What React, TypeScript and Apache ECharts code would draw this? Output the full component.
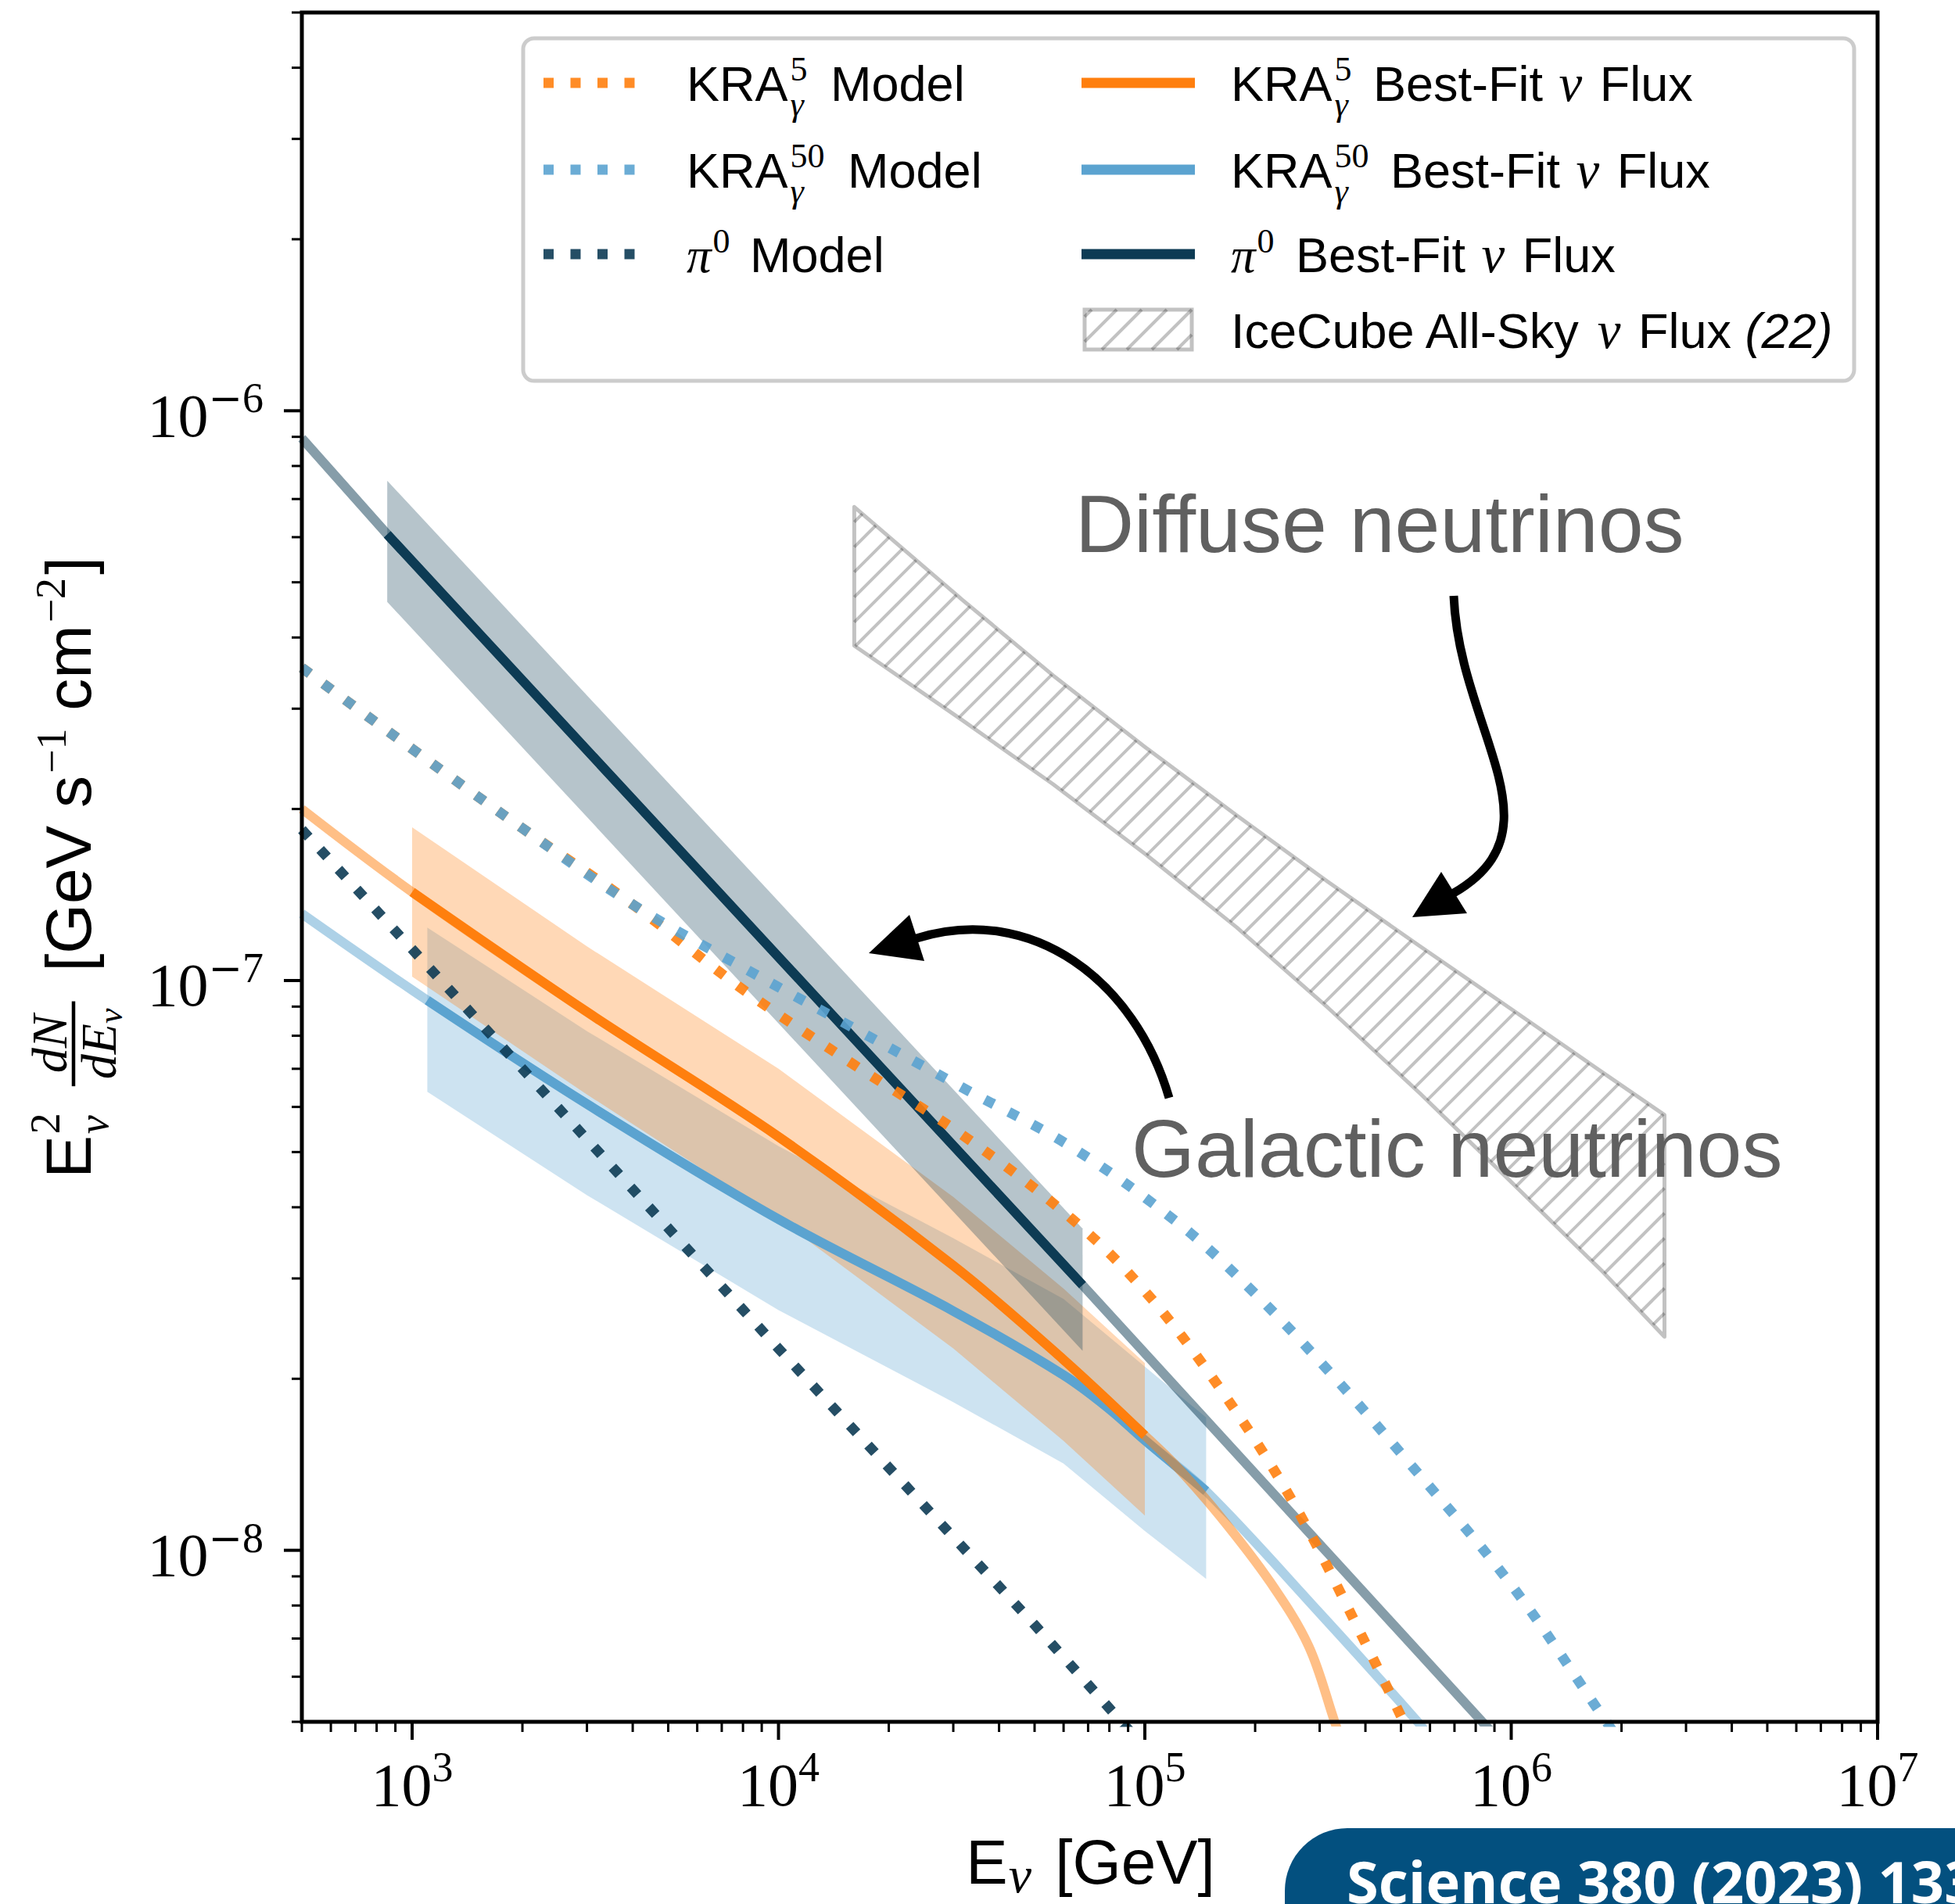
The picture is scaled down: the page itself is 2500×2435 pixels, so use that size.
import React, { useEffect, useRef } from 'react';
import * as echarts from 'echarts';

// ---------------- axis ranges & ticks ----------------
const X_MIN = 500;
const X_MAX = 1e7;
const Y_MIN = 5e-9;
const Y_MAX = 5e-6;
const xMajorTicks = [1e3, 1e4, 1e5, 1e6, 1e7];
const yMajorTicks = [1e-8, 1e-7, 1e-6];
const minorSteps = [2, 3, 4, 5, 6, 7, 8, 9];
const xMinorDecades = [1e2, 1e3, 1e4, 1e5, 1e6];
const yMinorDecades = [1e-9, 1e-8, 1e-7, 1e-6];

// ---------------- data (E in GeV, E^2 dN/dE in GeV s^-1 cm^-2) ----------------
// model predictions (dotted)
const pi0ModelE = [500, 2000, 10000, 50000, 100000];
const pi0ModelF = [1.84e-7, 7.0e-8, 2.26e-8, 7.4e-9, 4.5e-9];

const kra50ModelE = [500, 1000, 2000, 4000, 8000, 16000, 31600, 63100, 126000, 200000, 316000, 500000, 1000000, 1780000, 2000000];
const kra50ModelF = [3.54e-7, 2.55e-7, 1.85e-7, 1.36e-7, 1.054e-7, 8.26e-8, 6.5e-8, 5.1e-8, 3.71e-8, 2.82e-8, 2.07e-8, 1.48e-8, 8.7e-9, 5.1e-9, 4.57e-9];

const kra5ModelE = [500, 1000, 2000, 4000, 8000, 16000, 31600, 63100, 100000, 158000, 251000, 398000, 562000];
const kra5ModelF = [3.54e-7, 2.55e-7, 1.85e-7, 1.36e-7, 9.64e-8, 7.13e-8, 5.37e-8, 3.82e-8, 2.85e-8, 1.95e-8, 1.23e-8, 6.92e-9, 4.37e-9];

// best-fit fluxes (solid inside fit range, faded outside)
const kra5FitE = [500, 1000, 3000, 10000, 30000, 60000, 100000, 120000, 160000, 220000, 280000, 330000, 350000];
const kra5FitF = [2.0e-7, 1.43e-7, 8.81e-8, 5.32e-8, 3.16e-8, 2.16e-8, 1.59e-8, 1.42e-8, 1.15e-8, 8.79e-9, 6.79e-9, 4.99e-9, 4.47e-9];
const kra5FitRange = [1000, 100000];

const kra50FitE = [500, 1100, 3000, 10000, 30000, 60000, 80000, 100000, 147000, 300000, 560000, 600000];
const kra50FitF = [1.31e-7, 9.23e-8, 6.07e-8, 3.81e-8, 2.63e-8, 2.03e-8, 1.77e-8, 1.56e-8, 1.27e-8, 7.76e-9, 4.97e-9, 4.68e-9];
const kra50FitRange = [1100, 147000];

const pi0FitE = [500, 855, 10000, 67600, 1000000];
const pi0FitF = [8.95e-7, 6.07e-7, 1.10e-7, 2.92e-8, 4.4e-9];
const pi0FitRange = [855, 67600];

// uncertainty bands
const pi0BandE = [855, 10000, 67600];
const pi0BandUp = [7.54e-7, 1.377e-7, 3.67e-8];
const pi0BandLo = [4.62e-7, 8.41e-8, 2.24e-8];

const kra5BandE = [1000, 3000, 10000, 30000, 60000, 100000];
const kra5BandUp = [1.858e-7, 1.148e-7, 7.0e-8, 4.17e-8, 2.88e-8, 2.13e-8];
const kra5BandLo = [1.016e-7, 6.31e-8, 3.82e-8, 2.26e-8, 1.556e-8, 1.151e-8];

const kra50BandE = [1100, 3000, 10000, 30000, 60000, 100000, 147000];
const kra50BandUp = [1.239e-7, 8.15e-8, 5.12e-8, 3.53e-8, 2.76e-8, 2.10e-8, 1.71e-8];
const kra50BandLo = [6.38e-8, 4.20e-8, 2.64e-8, 1.82e-8, 1.42e-8, 1.081e-8, 8.91e-9];

// IceCube all-sky diffuse flux (hatched)
const iceE = [16100, 31600, 56200, 100000, 178000, 316000, 562000, 1000000, 1780000, 2620000];
const iceUp = [6.78e-7, 4.67e-7, 3.43e-7, 2.57e-7, 1.95e-7, 1.49e-7, 1.15e-7, 8.91e-8, 6.89e-8, 5.81e-8];
const iceLo = [3.87e-7, 2.87e-7, 2.21e-7, 1.67e-7, 1.24e-7, 8.96e-8, 6.35e-8, 4.43e-8, 3.08e-8, 2.37e-8];

// ---------------- styles ----------------
const ORANGE = [255, 127, 14];
const BLUE = [91, 163, 208];
const NAVY = [13, 59, 84];
const rgba = (c: number[], a: number) => `rgba(${c[0]},${c[1]},${c[2]},${a})`;
const HATCH = 'rgba(0,0,0,0.24)';
const HATCH_STEP = 32;
const DOT = [13, 21.5];

const FONTS: any = {
  sans: { family: 'Liberation Sans', style: 'normal', weight: 'normal', cen: 0.3465 },
  sansI: { family: 'Liberation Sans', style: 'italic', weight: 'normal', cen: 0.3465 },
  serif: { family: 'Liberation Serif', style: 'normal', weight: 'normal', cen: 0.3375 },
  serifI: { family: 'Liberation Serif', style: 'italic', weight: 'normal', cen: 0.3375 },
  bold: { family: 'Open Sans', style: 'normal', weight: 'bold', cen: 0.388 },
};

let measureCtx: any = null;
function textWidth(text: string, fk: string, size: number) {
  if (!measureCtx) measureCtx = document.createElement('canvas').getContext('2d');
  const f = FONTS[fk];
  measureCtx.font = `${f.style} ${f.weight} ${size}px "${f.family}"`;
  return measureCtx.measureText(text).width;
}

function textEl(text: string, fk: string, size: number, x: number, baseline: number, fill: string) {
  const f = FONTS[fk];
  return {
    type: 'text', x, y: baseline - f.cen * size, z: 100, silent: true,
    style: {
      text, fontSize: size, fontFamily: f.family, fontStyle: f.style, fontWeight: f.weight, fill,
      align: 'left', textAlign: 'left', verticalAlign: 'middle', textVerticalAlign: 'middle',
    },
  };
}

function layout(tokens: any[], x0: number, baseline: number, fill: string, out: any[] | null): number {
  let x = x0;
  for (const tk of tokens) {
    x += tk.gap || 0;
    if (tk.stack) {
      let w = 0;
      for (const s of tk.stack) w = Math.max(w, layout([s], x, baseline, fill, out));
      x += w;
    } else if (tk.frac) {
      const fr = tk.frac;
      const wn = layout(fr.num, 0, 0, fill, null);
      const wd = layout(fr.den, 0, 0, fill, null);
      const W = Math.max(wn, wd) + 2 * fr.pad;
      if (out) {
        layout(fr.num, x + (W - wn) / 2, baseline + fr.numDy, fill, out);
        layout(fr.den, x + (W - wd) / 2, baseline + fr.denDy, fill, out);
        out.push({ type: 'line', z: 100, silent: true, shape: { x1: x, y1: baseline + fr.barDy, x2: x + W, y2: baseline + fr.barDy }, style: { stroke: fill, lineWidth: fr.bar } });
      }
      x += W;
    } else {
      const w = textWidth(tk.t, tk.f, tk.s);
      if (out) out.push(textEl(tk.t, tk.f, tk.s, x, baseline + (tk.dy || 0), fill));
      x += w;
    }
  }
  return x - x0;
}

function hatchLines(pts: number[][], step: number, lw: number, z?: number) {
  const out: any[] = [];
  const sums = pts.map((p) => p[0] + p[1]);
  const cmin = Math.min(...sums);
  const cmax = Math.max(...sums);
  for (let c = Math.ceil(cmin / step) * step; c <= cmax; c += step) {
    const hits: number[][] = [];
    for (let i = 0; i < pts.length; i++) {
      const a = pts[i];
      const b = pts[(i + 1) % pts.length];
      const sa = a[0] + a[1] - c;
      const sb = b[0] + b[1] - c;
      if ((sa < 0 && sb >= 0) || (sa >= 0 && sb < 0)) {
        const t = sa / (sa - sb);
        hits.push([a[0] + t * (b[0] - a[0]), a[1] + t * (b[1] - a[1])]);
      }
    }
    hits.sort((p, q) => p[0] - q[0]);
    for (let k = 0; k + 1 < hits.length; k += 2) {
      const el: any = { type: 'line', shape: { x1: hits[k][0], y1: hits[k][1], x2: hits[k + 1][0], y2: hits[k + 1][1] }, style: { stroke: HATCH, lineWidth: lw } };
      if (z != null) { el.z = z; el.silent = true; }
      out.push(el);
    }
  }
  return out;
}

const pairs = (E: number[], F: number[]) => E.map((e, i) => [e, F[i]]);
const within = (E: number[], F: number[], r: number[]) => pairs(E, F).filter((p) => p[0] >= r[0] * 0.999 && p[0] <= r[1] * 1.001);

function lineSeries(data: any[], color: string, width: number, dotted: boolean, smooth: number) {
  return {
    type: 'line', data, showSymbol: false, symbol: 'none', silent: true, clip: true,
    smooth,
    lineStyle: { color, width, type: dotted ? DOT : 'solid', cap: 'butt', join: dotted ? 'miter' : 'round' },
  };
}

function bandSeries(E: number[], up: number[], lo: number[], fill: string) {
  return {
    type: 'custom', coordinateSystem: 'cartesian2d', silent: true,
    encode: { x: 0, y: 1 },
    data: [[E[0], lo[0]]],
    renderItem: (params: any, api: any) => {
      const pts: number[][] = [];
      for (let i = 0; i < E.length; i++) pts.push(api.coord([E[i], up[i]]));
      for (let i = E.length - 1; i >= 0; i--) pts.push(api.coord([E[i], lo[i]]));
      return { type: 'polygon', shape: { points: pts }, style: { fill } };
    },
  };
}

function hatchSeries(E: number[], up: number[], lo: number[]) {
  return {
    type: 'custom', coordinateSystem: 'cartesian2d', silent: true,
    encode: { x: 0, y: 1 },
    data: [[E[0], lo[0]]],
    renderItem: (params: any, api: any) => {
      const pts: number[][] = [];
      for (let i = 0; i < E.length; i++) pts.push(api.coord([E[i], up[i]]));
      for (let i = E.length - 1; i >= 0; i--) pts.push(api.coord([E[i], lo[i]]));
      const children = hatchLines(pts, HATCH_STEP, 4);
      children.push({ type: 'polygon', shape: { points: pts }, style: { fill: 'none', stroke: HATCH, lineWidth: 5, lineJoin: 'round' } });
      return { type: 'group', children };
    },
  };
}

function tickSeries(data: number[][], horizontal: boolean) {
  return {
    type: 'custom', coordinateSystem: 'cartesian2d', silent: true, clip: false, z: 60,
    encode: { x: 0, y: 1 },
    data,
    renderItem: (params: any, api: any) => {
      const p = api.coord([api.value(0), api.value(1)]);
      const major = api.value(2) === 1;
      const len = major ? 23 : 13;
      const lw = major ? 4 : 3;
      const shape = horizontal
        ? { x1: p[0], y1: p[1] + 2, x2: p[0], y2: p[1] + len }
        : { x1: p[0] - 2, y1: p[1], x2: p[0] - len, y2: p[1] };
      return { type: 'line', shape, style: { stroke: '#000', lineWidth: lw } };
    },
  };
}

function powLabel(v: number) {
  if (!(v > 0)) return '';
  const l = Math.log10(v);
  const r = Math.round(l);
  if (Math.abs(l - r) > 1e-6) return '';
  return r < 0 ? `{b|10}{m|\u2212}{s|${-r}}` : `{b|10}{s|${r}}`;
}

const tickRich = {
  b: { fontFamily: 'Liberation Serif', fontSize: 78, padding: [12, 0, 0, 0], color: '#000' },
  m: { fontFamily: 'DejaVu Sans', fontSize: 52, padding: [0, 0, 32, 0], color: '#000' },
  s: { fontFamily: 'Liberation Serif', fontSize: 54, padding: [0, 0, 32, 0], color: '#000' },
};

function buildOption() {
  const xMinor: number[] = [];
  xMinorDecades.forEach((d) => minorSteps.forEach((m) => { const v = m * d; if (v >= X_MIN && v <= X_MAX) xMinor.push(v); }));
  const yMinor: number[] = [];
  yMinorDecades.forEach((d) => minorSteps.forEach((m) => { const v = m * d; if (v >= Y_MIN * 0.999 && v <= Y_MAX * 1.001) yMinor.push(v); }));
  const xTickData = [...xMajorTicks.map((v) => [v, Y_MIN, 1]), ...xMinor.map((v) => [v, Y_MIN, 0])];
  const yTickData = [...yMajorTicks.map((v) => [X_MIN, v, 1]), ...yMinor.map((v) => [X_MIN, v, 0])];

  const S = 0.35;
  const series = [
    bandSeries(kra50BandE, kra50BandUp, kra50BandLo, rgba(BLUE, 0.3)),
    lineSeries(pairs(kra50FitE, kra50FitF), rgba(BLUE, 0.5), 12, false, S),
    lineSeries(within(kra50FitE, kra50FitF, kra50FitRange), rgba(BLUE, 1), 12, false, S),
    bandSeries(kra5BandE, kra5BandUp, kra5BandLo, rgba(ORANGE, 0.3)),
    bandSeries(pi0BandE, pi0BandUp, pi0BandLo, rgba(NAVY, 0.3)),
    lineSeries(pairs(kra5FitE, kra5FitF), rgba(ORANGE, 0.5), 12, false, S),
    lineSeries(within(kra5FitE, kra5FitF, kra5FitRange), rgba(ORANGE, 1), 12, false, S),
    lineSeries(pairs(pi0FitE, pi0FitF), rgba(NAVY, 0.5), 12, false, 0),
    lineSeries(within(pi0FitE, pi0FitF, pi0FitRange), rgba(NAVY, 1), 12, false, 0),
    hatchSeries(iceE, iceUp, iceLo),
    lineSeries(pairs(pi0ModelE, pi0ModelF), rgba(NAVY, 0.9), 13, true, 0),
    lineSeries(pairs(kra5ModelE, kra5ModelF), rgba(ORANGE, 0.9), 13, true, S),
    lineSeries(pairs(kra50ModelE, kra50ModelF), rgba(BLUE, 0.9), 13, true, S),
    tickSeries(xTickData, true),
    tickSeries(yTickData, false),
  ];

  // ---------------- graphic: frame, legend, titles, annotations ----------------
  const g: any[] = [];
  g.push({ type: 'rect', z: 50, silent: true, shape: { x: 386, y: 16, width: 2015, height: 2186 }, style: { fill: 'none', stroke: '#000', lineWidth: 5 } });

  // legend box
  g.push({ type: 'rect', z: 99, silent: true, shape: { x: 669, y: 49, width: 1702, height: 438, r: 14 }, style: { fill: 'rgba(255,255,255,0.8)', stroke: '#cccccc', lineWidth: 5 } });
  const rowsY = [106, 217, 325, 421.5];
  const rowsB = [129, 240, 348, 445];
  const dotted = [ORANGE, BLUE, NAVY];
  dotted.forEach((c, i) => g.push({ type: 'line', z: 100, silent: true, shape: { x1: 695, y1: rowsY[i], x2: 816, y2: rowsY[i] }, style: { stroke: rgba(c, 0.9), lineWidth: 13, lineDash: DOT, lineCap: 'butt' } }));
  dotted.forEach((c, i) => g.push({ type: 'line', z: 100, silent: true, shape: { x1: 1383, y1: rowsY[i], x2: 1528, y2: rowsY[i] }, style: { stroke: rgba(c, 1), lineWidth: 13, lineCap: 'butt' } }));
  const icon = [[1387, 396], [1524, 396], [1524, 447], [1387, 447]];
  hatchLines(icon, HATCH_STEP, 4, 100).forEach((e) => g.push(e));
  g.push({ type: 'rect', z: 100, silent: true, shape: { x: 1387, y: 396, width: 137, height: 51 }, style: { fill: 'none', stroke: HATCH, lineWidth: 5 } });

  const LS = 63;
  const LSS = 44;
  const kra = (sup: string) => [
    { t: 'KRA', f: 'sans', s: LS },
    { stack: [{ t: sup, f: 'serif', s: LSS, dy: -26, gap: 3 }, { t: '\u03b3', f: 'serifI', s: LSS, dy: 19, gap: 3 }] },
  ];
  const pi0 = [{ t: '\u03c0', f: 'serifI', s: LS }, { t: '0', f: 'serif', s: LSS, dy: -25, gap: 2 }];
  const bestFit = [{ t: ' Best-Fit ', f: 'sans', s: LS, gap: 10 }, { t: '\u03bd', f: 'serifI', s: LS + 4, gap: 3 }, { t: ' Flux', f: 'sans', s: LS, gap: 5 }];
  const col1 = [
    [...kra('5'), { t: ' Model', f: 'sans', s: LS, gap: 12 }],
    [...kra('50'), { t: ' Model', f: 'sans', s: LS, gap: 12 }],
    [...pi0, { t: ' Model', f: 'sans', s: LS, gap: 8 }],
  ];
  const col2 = [
    [...kra('5'), ...bestFit],
    [...kra('50'), ...bestFit],
    [...pi0, ...bestFit],
    [{ t: 'IceCube All-Sky ', f: 'sans', s: LS }, { t: '\u03bd', f: 'serifI', s: LS + 4, gap: 3 }, { t: ' Flux ', f: 'sans', s: LS, gap: 5 }, { t: '(22)', f: 'sansI', s: LS }],
  ];
  col1.forEach((toks, i) => layout(toks, 878, rowsB[i], '#000', g));
  col2.forEach((toks, i) => layout(toks, 1574, rowsB[i], '#000', g));

  // y-axis title (rotated)
  const YT = 82;
  const YS = 54;
  const yTitle = [
    { t: 'E', f: 'sans', s: YT },
    { stack: [{ t: '2', f: 'serif', s: YS, dy: -40, gap: 2 }, { t: '\u03bd', f: 'serifI', s: YS, dy: 22, gap: 2 }] },
    { frac: { num: [{ t: 'dN', f: 'serifI', s: 64 }], den: [{ t: 'dE', f: 'serifI', s: 64 }, { t: '\u03bd', f: 'serifI', s: 44, dy: 8 }], numDy: -31, denDy: 32, barDy: -22, pad: 9, bar: 4.5 }, gap: 34 },
    { t: '[GeV s', f: 'sans', s: YT, gap: 38 },
    { t: '\u22121', f: 'serif', s: YS, dy: -32, gap: 3 },
    { t: ' cm', f: 'sans', s: YT },
    { t: '\u22122', f: 'serif', s: YS, dy: -33, gap: 3 },
    { t: ']', f: 'sans', s: YT, gap: 4 },
  ];
  const yW = layout(yTitle, 0, 0, '#000', null);
  const yChildren: any[] = [];
  layout(yTitle, 0, 0, '#000', yChildren);
  g.push({ type: 'group', z: 100, x: 116, y: 1109.5 + yW / 2, rotation: Math.PI / 2, children: yChildren });

  // x-axis title
  const XT = 80;
  const xTitle = [
    { t: 'E', f: 'sans', s: XT },
    { t: '\u03bd', f: 'serifI', s: 66, dy: 11, gap: 1 },
    { t: ' [GeV]', f: 'sans', s: XT, gap: 8 },
  ];
  const xW = layout(xTitle, 0, 0, '#000', null);
  layout(xTitle, 1394.5 - xW / 2, 2409, '#000', g);

  // annotations
  g.push(textEl('Diffuse neutrinos', 'sans', 104, 1375, 706, '#606060'));
  g.push(textEl('Galactic neutrinos', 'sans', 104, 1447, 1505, '#606060'));
  g.push({ type: 'bezierCurve', z: 101, silent: true, shape: { x1: 1859, y1: 762, cpx1: 1866, cpy1: 935, cpx2: 2000, cpy2: 1060, x2: 1859, y2: 1142 }, style: { stroke: '#000', lineWidth: 11, fill: 'none' } });
  g.push({ type: 'polygon', z: 101, silent: true, shape: { points: [[1806, 1173], [1843, 1115], [1876, 1168]] }, style: { fill: '#000' } });
  g.push({ type: 'bezierCurve', z: 101, silent: true, shape: { x1: 1495, y1: 1404, cpx1: 1452, cpy1: 1255, cpx2: 1320, cpy2: 1154, x2: 1172, y2: 1200 }, style: { stroke: '#000', lineWidth: 11, fill: 'none' } });
  g.push({ type: 'polygon', z: 101, silent: true, shape: { points: [[1111, 1219], [1163, 1170], [1182, 1229]] }, style: { fill: '#000' } });

  // journal badge
  g.push({ type: 'rect', z: 102, silent: true, shape: { x: 1643, y: 2338, width: 1000, height: 200, r: 80 }, style: { fill: '#03507f' } });
  const badge: any = textEl('Science 380 (2023) 1338', 'bold', 74, 1722, 2434, '#ffffff');
  badge.z = 103;
  g.push(badge);

  return {
    animation: false,
    backgroundColor: '#ffffff',
    grid: { left: 386, top: 16, width: 2015, height: 2186, containLabel: false, outerBoundsMode: 'none' },
    xAxis: {
      type: 'log', logBase: 10, min: X_MIN, max: X_MAX,
      axisLine: { show: false }, axisTick: { show: false }, minorTick: { show: false },
      splitLine: { show: false }, minorSplitLine: { show: false },
      axisLabel: { show: true, margin: 29, formatter: powLabel, rich: tickRich },
    },
    yAxis: {
      type: 'log', logBase: 10, min: Y_MIN, max: Y_MAX,
      axisLine: { show: false }, axisTick: { show: false }, minorTick: { show: false },
      splitLine: { show: false }, minorSplitLine: { show: false },
      axisLabel: { show: true, margin: 49, formatter: powLabel, rich: tickRich },
    },
    series,
    graphic: { elements: g },
  };
}

export default function App() {
  const ref = useRef<HTMLDivElement>(null);
  useEffect(() => {
    document.body.style.margin = '0';
    const chart = echarts.init(ref.current as HTMLDivElement, null, { renderer: 'svg', width: 2500, height: 2435 });
    chart.setOption(buildOption() as any);
    return () => chart.dispose();
  }, []);
  return <div ref={ref} style={{ width: 2500, height: 2435, background: '#fff' }} />;
}
